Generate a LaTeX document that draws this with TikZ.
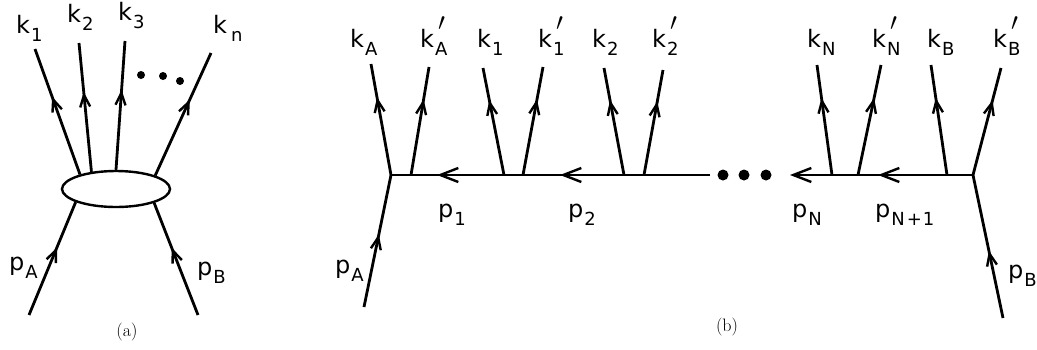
\documentclass[tikz,border=0pt]{standalone}
\usepackage{fontspec}
\setsansfont{DejaVu Sans}
\usetikzlibrary{arrows.meta,decorations.markings,shapes.geometric}

\newcommand{\subsz}{\fontsize{18}{20}\selectfont}
\newcommand{\lbl}[2]{#1\kern1pt\raisebox{-8pt}{\subsz #2}}
\newcommand{\lblp}[2]{#1\kern1pt\rlap{\raisebox{17pt}{\fontsize{26}{28}\selectfont\kern3pt$\prime$}}\raisebox{-8pt}{\subsz #2}}

\tikzset{
  smalltip/.tip={Straight Barb[length=12pt,width=10pt,line width=2.4pt]},
  bigtip/.tip={Straight Barb[length=18pt,width=14pt,line width=2.4pt]},
  leg/.style={line width=2.8pt},
  flow/.style={leg, postaction={decorate}, decoration={markings,
      mark=at position #1 with {\arrow{smalltip}}}},
  flow/.default=0.62,
  lab/.style={font=\sffamily\fontsize{24}{28}\selectfont, inner sep=0pt, anchor=base west},
  legende/.style={font=\fontsize{18}{20}\selectfont, inner sep=0pt},
  blob/.style={draw, ellipse, line width=2.4pt, minimum width=108pt, minimum height=36pt, inner sep=0pt},
}

\begin{document}
\begin{tikzpicture}[x=1pt,y=-1pt]
  \useasboundingbox (0,0) rectangle (1037,349);

  % Figure (a)
  \node[blob] (blob) at (116,189) {};
  \coordinate (k1) at (35,49);
  \coordinate (k2) at (79,43);
  \coordinate (k3) at (125,41);
  \coordinate (kn) at (211,53);
  \coordinate (pa) at (29,315);
  \coordinate (pb) at (198,315);

  \draw[flow] (blob.158) -- (k1);
  \draw[flow] (blob.145) -- (k2);
  \draw[flow] (blob.90) -- (k3);
  \draw[flow] (blob.19) -- (kn);
  \draw[flow=0.6] (pa) -- (blob.198);
  \draw[flow=0.6] (pb) -- (blob.340);

  % Points
  \fill (141,75) circle (4) (163,76) circle (4) (180,81) circle (4);

  \node[lab] (lk1) at (16,33) {\lbl{k}{1}};
  \node[lab] (lk2) at (67,22) {\lbl{k}{2}};
  \node[lab] (lk3) at (118,20) {\lbl{k}{3}};
  \node[lab] (lkn) at (213,33) {k\kern4pt\raisebox{-8pt}{\subsz n}};
  \node[lab] (lpa) at (9,270) {\lbl{p}{A}};
  \node[lab] (lpb) at (197,275) {\lbl{p}{B}};
  \node[legende] (capa) at (127,332) {(a)};

  % Figure (b)
  \coordinate (vA) at (391,175);
  \coordinate (vB) at (973,175);
  \coordinate (gapL) at (710,175);
  \coordinate (gapR) at (790,175);
  \coordinate (qA) at (364,307);
  \coordinate (qB) at (1003,318);

  % Propagateurs
  \draw[leg, postaction={decorate}, decoration={markings,
      mark=at position 150pt with {\arrow{bigtip}},
      mark=at position 273pt with {\arrow{bigtip}}}] (gapL) -- (vA);
  \draw[leg, -{bigtip}, postaction={decorate}, decoration={markings,
      mark=at position 95pt with {\arrow{bigtip}}}] (vB) -- (gapR);
  \fill (723,175) circle (5.5) (744,175) circle (5.5) (766,175) circle (5.5);

  % Particules entrantes
  \draw[flow=0.55] (qA) -- (vA);
  \draw[flow=0.47] (qB) -- (vB);

  % Particules sortantes
  \foreach \xa/\xe/\ye/\nom in {391/371/64/eA, 411/429/67/eAp, 504/483/68/e1, 523/543/67/e1p,
      624/604/68/e2, 644/663/70/e2p, 832/817/65/eN, 858/881/65/eNp, 947/931/65/eB, 973/1001/68/eBp}{
    \coordinate (w\nom) at (\xa,175);
    \coordinate (\nom) at (\xe,\ye);
    \draw[flow=0.7] (w\nom) -- (\nom);
  }

  \node[lab] (lkA) at (350,47) {\lbl{k}{A}};
  \node[lab] (lkAp) at (420,47) {\lblp{k}{A}};
  \node[lab] (lk1b) at (477,47) {\lbl{k}{1}};
  \node[lab] (lk1p) at (538,47) {\lblp{k}{1}};
  \node[lab] (lk2b) at (592,47) {\lbl{k}{2}};
  \node[lab] (lk2p) at (652,47) {\lblp{k}{2}};
  \node[lab] (lkN) at (807,47) {\lbl{k}{N}};
  \node[lab] (lkNp) at (872,47) {\lblp{k}{N}};
  \node[lab] (lkB) at (927,47) {\lbl{k}{B}};
  \node[lab] (lkBp) at (993,47) {\lblp{k}{B}};

  \node[lab] (lp1) at (438,217) {\lbl{p}{1}};
  \node[lab] (lp2) at (568,217) {\lbl{p}{2}};
  \node[lab] (lpN) at (792,217) {\lbl{p}{N}};
  \node[lab] (lpN1) at (875,217) {\lbl{p}{N\kern2pt+\kern1pt1}};
  \node[lab] (lpAb) at (335,273) {\lbl{p}{A}};
  \node[lab] (lpBb) at (1008,278) {\lbl{p}{B}};
  \node[legende] (capb) at (727,327) {(b)};
\end{tikzpicture}
\end{document}
